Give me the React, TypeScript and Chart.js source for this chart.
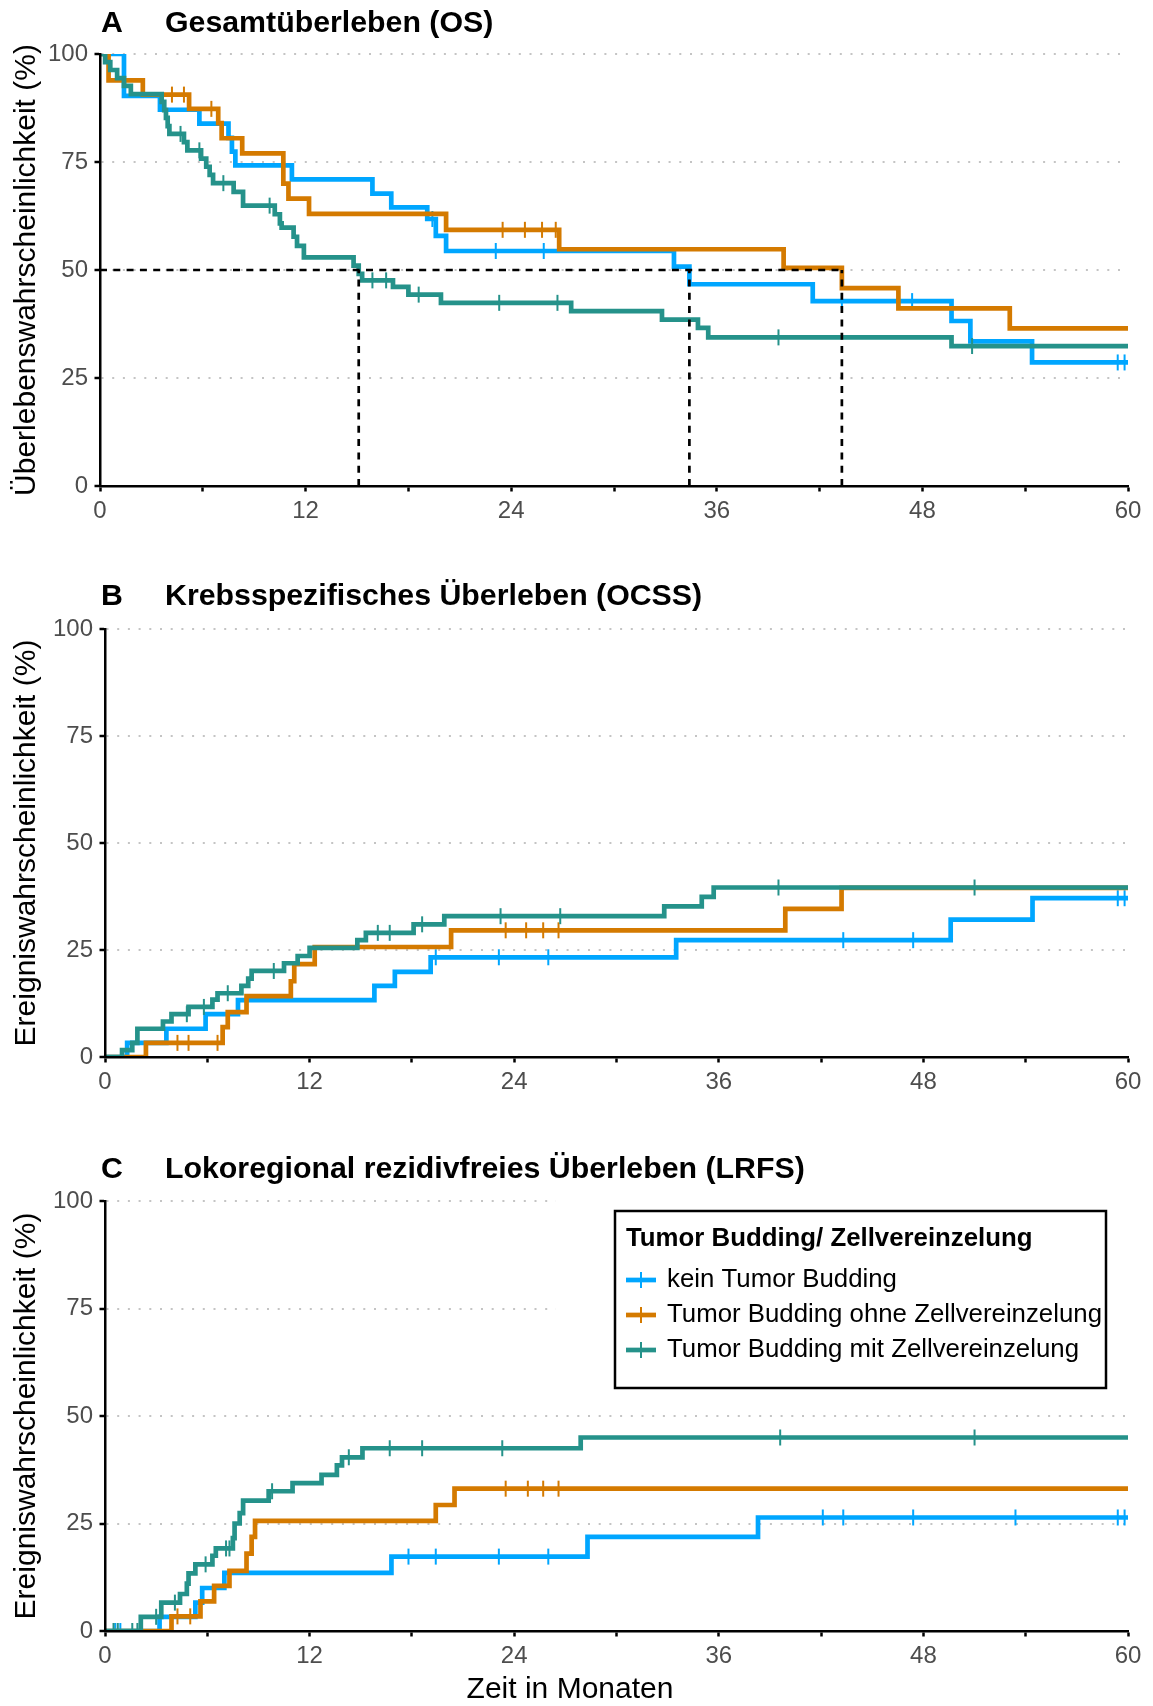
import React, { useEffect, useRef } from 'react';
import { Chart, registerables } from 'chart.js';

Chart.register(...registerables);

const FONT = '"Liberation Sans", Arial, Helvetica, sans-serif';
Chart.defaults.font.family = FONT;

type Pt = [number, number];

// ---------- groups ----------
const GROUP_LABELS = [
  'kein Tumor Budding',
  'Tumor Budding ohne Zellvereinzelung',
  'Tumor Budding mit Zellvereinzelung',
];
const GROUP_COLORS = ['#00A6FF', '#D47A00', '#25928A'];
const LEGEND_TITLE = 'Tumor Budding/ Zellvereinzelung';
const X_TITLE = 'Zeit in Monaten';

// ---------- axes ----------
const X_MIN = 0;
const X_MAX = 60;
const X_TICK_STEP = 6;
const X_LABEL_EVERY = 12;
const Y_MIN = 0;
const Y_MAX = 100;
const Y_TICK_STEP = 25;

// ---------- Panel A: Gesamtüberleben (OS) ----------
const OS_BLUE: Pt[] = [[0, 100], [1.4, 90.3], [3.5, 87.1], [5.8, 83.9], [7.5, 80.6], [7.7, 77.4], [7.9, 74.2], [11.2, 71.0], [15.9, 67.7], [17.0, 64.5], [19.1, 61.8], [19.6, 57.9], [20.2, 54.4], [33.5, 50.8], [34.4, 46.7], [41.6, 42.8], [49.7, 38.2], [50.8, 33.5], [54.4, 28.6], [60, 28.6]];
const OS_BLUE_CENS: Pt[] = [[19.4, 61.8], [23.1, 54.4], [25.9, 54.4], [43.3, 42.8], [47.4, 42.8], [59.4, 28.6], [59.8, 28.6]];
const OS_ORANGE: Pt[] = [[0, 100], [0.5, 93.9], [2.5, 90.6], [5.2, 87.3], [6.9, 84.0], [7.1, 80.5], [8.3, 77.0], [10.7, 70.0], [11.0, 66.5], [12.2, 63.0], [20.2, 59.3], [26.8, 54.8], [39.9, 50.5], [43.3, 45.8], [46.6, 41.1], [53.1, 36.5], [60, 36.5]];
const OS_ORANGE_CENS: Pt[] = [[4.2, 90.6], [4.9, 90.6], [6.5, 87.3], [23.5, 59.3], [24.8, 59.3], [25.8, 59.3], [26.6, 59.3]];
const OS_TEAL: Pt[] = [[0, 100], [0.3, 98.1], [0.6, 96.3], [1.0, 94.4], [1.4, 92.6], [1.8, 90.7], [3.6, 88.9], [3.75, 87.0], [3.85, 85.2], [3.95, 83.3], [4.05, 81.5], [4.9, 79.6], [5.1, 77.7], [5.9, 75.8], [6.2, 73.9], [6.4, 72.0], [6.6, 70.1], [7.8, 68.1], [8.35, 64.9], [10.2, 62.9], [10.5, 60.8], [10.6, 59.8], [11.3, 57.7], [11.5, 55.6], [11.9, 52.9], [14.8, 51.0], [15.1, 49.1], [15.3, 47.6], [17.1, 46.1], [18.0, 44.3], [19.9, 42.4], [27.5, 40.5], [32.8, 38.5], [34.9, 36.6], [35.5, 34.4], [49.7, 32.4], [60, 32.4]];
const OS_TEAL_CENS: Pt[] = [[4.7, 81.5], [5.8, 77.7], [7.2, 70.1], [9.9, 64.9], [15.9, 47.6], [16.7, 47.6], [18.6, 44.3], [23.3, 42.4], [26.7, 42.4], [39.6, 34.4], [50.9, 32.4]];
const OS_MEDIAN_LEVEL = 50;
const OS_MEDIANS = [15.1, 34.4, 43.3];

// ---------- Panel B: Krebsspezifisches Überleben (OCSS) ----------
const CSS_BLUE: Pt[] = [[0, 0], [1.3, 3.3], [3.6, 6.6], [5.9, 10.0], [7.8, 13.3], [15.8, 16.6], [17.0, 19.9], [19.1, 23.3], [33.5, 27.3], [49.6, 32.1], [54.4, 37.1], [60, 37.1]];
const CSS_BLUE_CENS: Pt[] = [[19.4, 23.3], [23.1, 23.3], [26.0, 23.3], [43.3, 27.3], [47.4, 27.3], [59.4, 37.1], [59.8, 37.1]];
const CSS_ORANGE: Pt[] = [[0, 0], [2.4, 3.3], [6.9, 7.0], [7.2, 10.5], [8.3, 14.2], [10.9, 17.7], [11.1, 21.7], [12.3, 25.7], [20.3, 29.6], [39.9, 34.6], [43.2, 39.5], [60, 39.5]];
const CSS_ORANGE_CENS: Pt[] = [[4.25, 3.3], [4.9, 3.3], [6.6, 3.3], [23.5, 29.6], [24.7, 29.6], [25.7, 29.6], [26.6, 29.6]];
const CSS_TEAL: Pt[] = [[0, 0], [1.0, 1.6], [1.6, 3.3], [1.9, 6.6], [3.4, 8.3], [3.9, 10.0], [4.9, 11.7], [6.3, 13.4], [6.6, 14.9], [8.0, 16.6], [8.4, 18.3], [8.6, 20.1], [10.5, 21.9], [11.3, 23.6], [12.0, 25.5], [14.8, 27.3], [15.3, 29.0], [18.1, 31.0], [19.9, 32.9], [32.8, 35.2], [35.0, 37.4], [35.7, 39.6], [60, 39.6]];
const CSS_TEAL_CENS: Pt[] = [[4.8, 10.0], [5.8, 11.7], [7.2, 14.9], [9.9, 20.1], [16.0, 29.0], [16.7, 29.0], [18.6, 31.0], [23.2, 32.9], [26.7, 32.9], [39.5, 39.6], [51.0, 39.6]];

// ---------- Panel C: Lokoregional rezidivfreies Überleben (LRFS) ----------
const LRFS_BLUE: Pt[] = [[0, 0], [3.2, 3.3], [5.3, 6.6], [5.7, 10.0], [7.0, 13.5], [16.8, 17.3], [28.3, 21.9], [38.3, 26.4], [60, 26.4]];
const LRFS_BLUE_CENS: Pt[] = [[0.6, 0], [0.9, 0], [17.8, 17.3], [19.4, 17.3], [23.1, 17.3], [26.0, 17.3], [42.1, 26.4], [43.3, 26.4], [47.4, 26.4], [53.4, 26.4], [59.4, 26.4], [59.8, 26.4]];
const LRFS_ORANGE: Pt[] = [[0, 0], [3.9, 3.4], [5.6, 6.9], [6.4, 10.5], [7.3, 14.0], [8.3, 18.0], [8.6, 21.9], [8.8, 25.6], [19.4, 29.3], [20.5, 33.1], [60, 33.1]];
const LRFS_ORANGE_CENS: Pt[] = [[4.25, 3.4], [5.0, 3.4], [23.5, 33.1], [24.8, 33.1], [25.7, 33.1], [26.6, 33.1]];
const LRFS_TEAL: Pt[] = [[0, 0], [2.1, 3.3], [3.3, 6.6], [4.4, 8.6], [4.8, 11.0], [4.9, 13.4], [5.3, 15.5], [6.3, 17.5], [6.5, 19.2], [7.5, 21.6], [7.6, 25.0], [7.9, 27.4], [8.1, 30.3], [9.6, 32.5], [11.0, 34.4], [12.7, 36.3], [13.6, 38.5], [13.9, 40.4], [15.1, 42.5], [27.9, 45.0], [60, 45.0]];
const LRFS_TEAL_CENS: Pt[] = [[0.5, 0], [0.75, 0], [1.6, 0], [1.9, 0], [3.0, 3.3], [4.1, 6.6], [5.9, 15.5], [7.1, 19.2], [7.3, 19.2], [9.8, 32.5], [14.3, 40.4], [16.7, 42.5], [18.6, 42.5], [23.3, 42.5], [39.6, 45.0], [51.0, 45.0]];

// ---------- layout (page pixels) ----------
const PAGE_W = 1153;
const PAGE_H = 1706;
const TITLE_SIZE = 30.3;
const AXIS_TITLE_SIZE = 30;
const TICK_SIZE = 24;
const LEGEND_SIZE = 25.8;
const LINE_W = 4.7;

interface PanelSpec {
  key: string;
  letter: string;
  title: string;
  yTitle: string;
  steps: Pt[][];
  cens: Pt[][];
  medians?: number[];
  showLegend?: boolean;
  showXTitle?: boolean;
  top: number;
  height: number;
  area: { left: number; top: number; bottom: number; right: number };
  titleY: number;
}

const PANELS: PanelSpec[] = [
  {
    key: 'A', letter: 'A', title: 'Gesamtüberleben (OS)', yTitle: 'Überlebenswahrscheinlichkeit (%)',
    steps: [OS_BLUE, OS_ORANGE, OS_TEAL], cens: [OS_BLUE_CENS, OS_ORANGE_CENS, OS_TEAL_CENS],
    medians: OS_MEDIANS,
    top: 0, height: 560, area: { left: 100, top: 54, bottom: 486, right: 1128 }, titleY: 24,
  },
  {
    key: 'B', letter: 'B', title: 'Krebsspezifisches Überleben (OCSS)', yTitle: 'Ereigniswahrscheinlichkeit (%)',
    steps: [CSS_BLUE, CSS_ORANGE, CSS_TEAL], cens: [CSS_BLUE_CENS, CSS_ORANGE_CENS, CSS_TEAL_CENS],
    top: 560, height: 570, area: { left: 105, top: 69, bottom: 497, right: 1128 }, titleY: 37,
  },
  {
    key: 'C', letter: 'C', title: 'Lokoregional rezidivfreies Überleben (LRFS)', yTitle: 'Ereigniswahrscheinlichkeit (%)',
    steps: [LRFS_BLUE, LRFS_ORANGE, LRFS_TEAL], cens: [LRFS_BLUE_CENS, LRFS_ORANGE_CENS, LRFS_TEAL_CENS],
    showLegend: true, showXTitle: true,
    top: 1130, height: 576, area: { left: 105, top: 71, bottom: 501, right: 1128 }, titleY: 40,
  },
];

function toXY(p: Pt[]) {
  return p.map(([x, y]) => ({ x, y }));
}

function decorPlugin(spec: PanelSpec) {
  return {
    id: 'decor' + spec.key,
    afterDraw(chart: any) {
      const ctx: CanvasRenderingContext2D = chart.ctx;
      const off = spec.top;
      ctx.save();
      ctx.fillStyle = '#000';
      ctx.textBaseline = 'middle';
      ctx.textAlign = 'left';
      ctx.font = `bold ${TITLE_SIZE}px ${FONT}`;
      ctx.fillText(spec.letter, 101, spec.titleY);
      ctx.fillText(spec.title, 165, spec.titleY);

      if (spec.showLegend) {
        // legend background
        ctx.fillStyle = '#fff';
        ctx.fillRect(556, 1195 - off, PAGE_W - 556, 207);
        // frame
        ctx.strokeStyle = '#000';
        ctx.lineWidth = 2.5;
        ctx.strokeRect(615, 1211 - off, 491, 177);
        ctx.fillStyle = '#000';
        ctx.font = `bold ${LEGEND_SIZE}px ${FONT}`;
        ctx.fillText(LEGEND_TITLE, 626, 1239 - off);
        ctx.font = `${LEGEND_SIZE}px ${FONT}`;
        const rowY = [1280, 1315, 1350];
        GROUP_LABELS.forEach((lab, i) => {
          const y = rowY[i] - off;
          ctx.strokeStyle = GROUP_COLORS[i];
          ctx.lineWidth = LINE_W;
          ctx.beginPath();
          ctx.moveTo(626, y);
          ctx.lineTo(656, y);
          ctx.stroke();
          ctx.lineWidth = 2;
          ctx.beginPath();
          ctx.moveTo(641, y - 8);
          ctx.lineTo(641, y + 8);
          ctx.stroke();
          ctx.fillStyle = '#000';
          ctx.fillText(lab, 667, y);
        });
      }
      if (spec.showXTitle) {
        ctx.fillStyle = '#000';
        ctx.textAlign = 'center';
        ctx.font = `${AXIS_TITLE_SIZE}px ${FONT}`;
        ctx.fillText(X_TITLE, 570, 1690 - off);
      }
      ctx.restore();
    },
  };
}

function buildConfig(spec: PanelSpec): any {
  const datasets: any[] = [];
  if (spec.medians) {
    const dash = {
      borderColor: '#000', borderWidth: 2.7, borderDash: [7, 6.3], pointRadius: 0,
      fill: false, order: 0, tension: 0,
    };
    const mx = Math.max(...spec.medians);
    datasets.push({ ...dash, data: [{ x: X_MIN, y: OS_MEDIAN_LEVEL }, { x: mx, y: OS_MEDIAN_LEVEL }] });
    spec.medians.forEach((m) => {
      datasets.push({ ...dash, data: [{ x: m, y: Y_MIN }, { x: m, y: OS_MEDIAN_LEVEL }] });
    });
  }
  spec.steps.forEach((s, i) => {
    const order = 10 - i * 2;
    datasets.push({
      label: GROUP_LABELS[i], data: toXY(s), borderColor: GROUP_COLORS[i], borderWidth: LINE_W,
      stepped: true, pointRadius: 0, fill: false, order, borderCapStyle: 'butt', borderJoinStyle: 'miter',
    });
    datasets.push({
      label: GROUP_LABELS[i] + ' zensiert', data: toXY(spec.cens[i]), showLine: false,
      pointStyle: 'line', pointRotation: 90, pointRadius: 8, pointHoverRadius: 8,
      pointBorderWidth: 2, pointBorderColor: GROUP_COLORS[i], pointBackgroundColor: GROUP_COLORS[i],
      borderColor: GROUP_COLORS[i], order: order - 1,
    });
  });

  const a = spec.area;
  return {
    type: 'line',
    data: { datasets },
    options: {
      animation: false,
      responsive: false,
      maintainAspectRatio: false,
      devicePixelRatio: 1,
      events: [],
      layout: { padding: { top: a.top, right: PAGE_W - a.right, left: 0, bottom: 0 }, autoPadding: false },
      plugins: { legend: { display: false }, tooltip: { enabled: false }, title: { display: false } },
      scales: {
        x: {
          type: 'linear', min: X_MIN, max: X_MAX,
          afterFit: (s: any) => { s.height = spec.height - a.bottom; },
          ticks: {
            stepSize: X_TICK_STEP, autoSkip: false, maxRotation: 0,
            callback: (v: any) => (Number(v) % X_LABEL_EVERY === 0 ? String(v) : ''),
            color: '#4D4D4D', font: { size: TICK_SIZE }, padding: 5.5,
          },
          grid: { drawOnChartArea: false, drawTicks: true, tickLength: 5.5, tickColor: '#000', tickWidth: 2.5 },
          border: { display: true, color: '#000', width: 2.5, z: 1 },
        },
        y: {
          type: 'linear', min: Y_MIN, max: Y_MAX,
          afterFit: (s: any) => { s.width = a.left; },
          ticks: { stepSize: Y_TICK_STEP, color: '#4D4D4D', font: { size: TICK_SIZE }, padding: 6.5 },
          grid: { color: '#C4C4C4', lineWidth: 2, drawTicks: true, tickLength: 5.5, tickColor: '#000', tickWidth: 2.5 },
          border: { display: true, color: '#000', width: 2.5, dash: [2, 8.7], z: 1 },
          title: {
            display: true, text: spec.yTitle, color: '#000',
            font: { size: AXIS_TITLE_SIZE }, padding: { top: 9, bottom: 0 },
          },
        },
      },
    },
    plugins: [decorPlugin(spec)],
  };
}

function PanelChart({ spec }: { spec: PanelSpec }) {
  const ref = useRef<HTMLCanvasElement | null>(null);
  useEffect(() => {
    const canvas = ref.current;
    if (!canvas) return;
    const chart = new Chart(canvas, buildConfig(spec));
    return () => chart.destroy();
  }, [spec]);
  return (
    <canvas
      ref={ref}
      width={PAGE_W}
      height={spec.height}
      style={{ position: 'absolute', left: 0, top: spec.top, width: PAGE_W, height: spec.height, display: 'block' }}
    />
  );
}

export default function App() {
  return (
    <div style={{ position: 'absolute', left: 0, top: 0, width: PAGE_W, height: PAGE_H, background: '#fff', overflow: 'hidden' }}>
      {PANELS.map((p) => (
        <PanelChart key={p.key} spec={p} />
      ))}
    </div>
  );
}
